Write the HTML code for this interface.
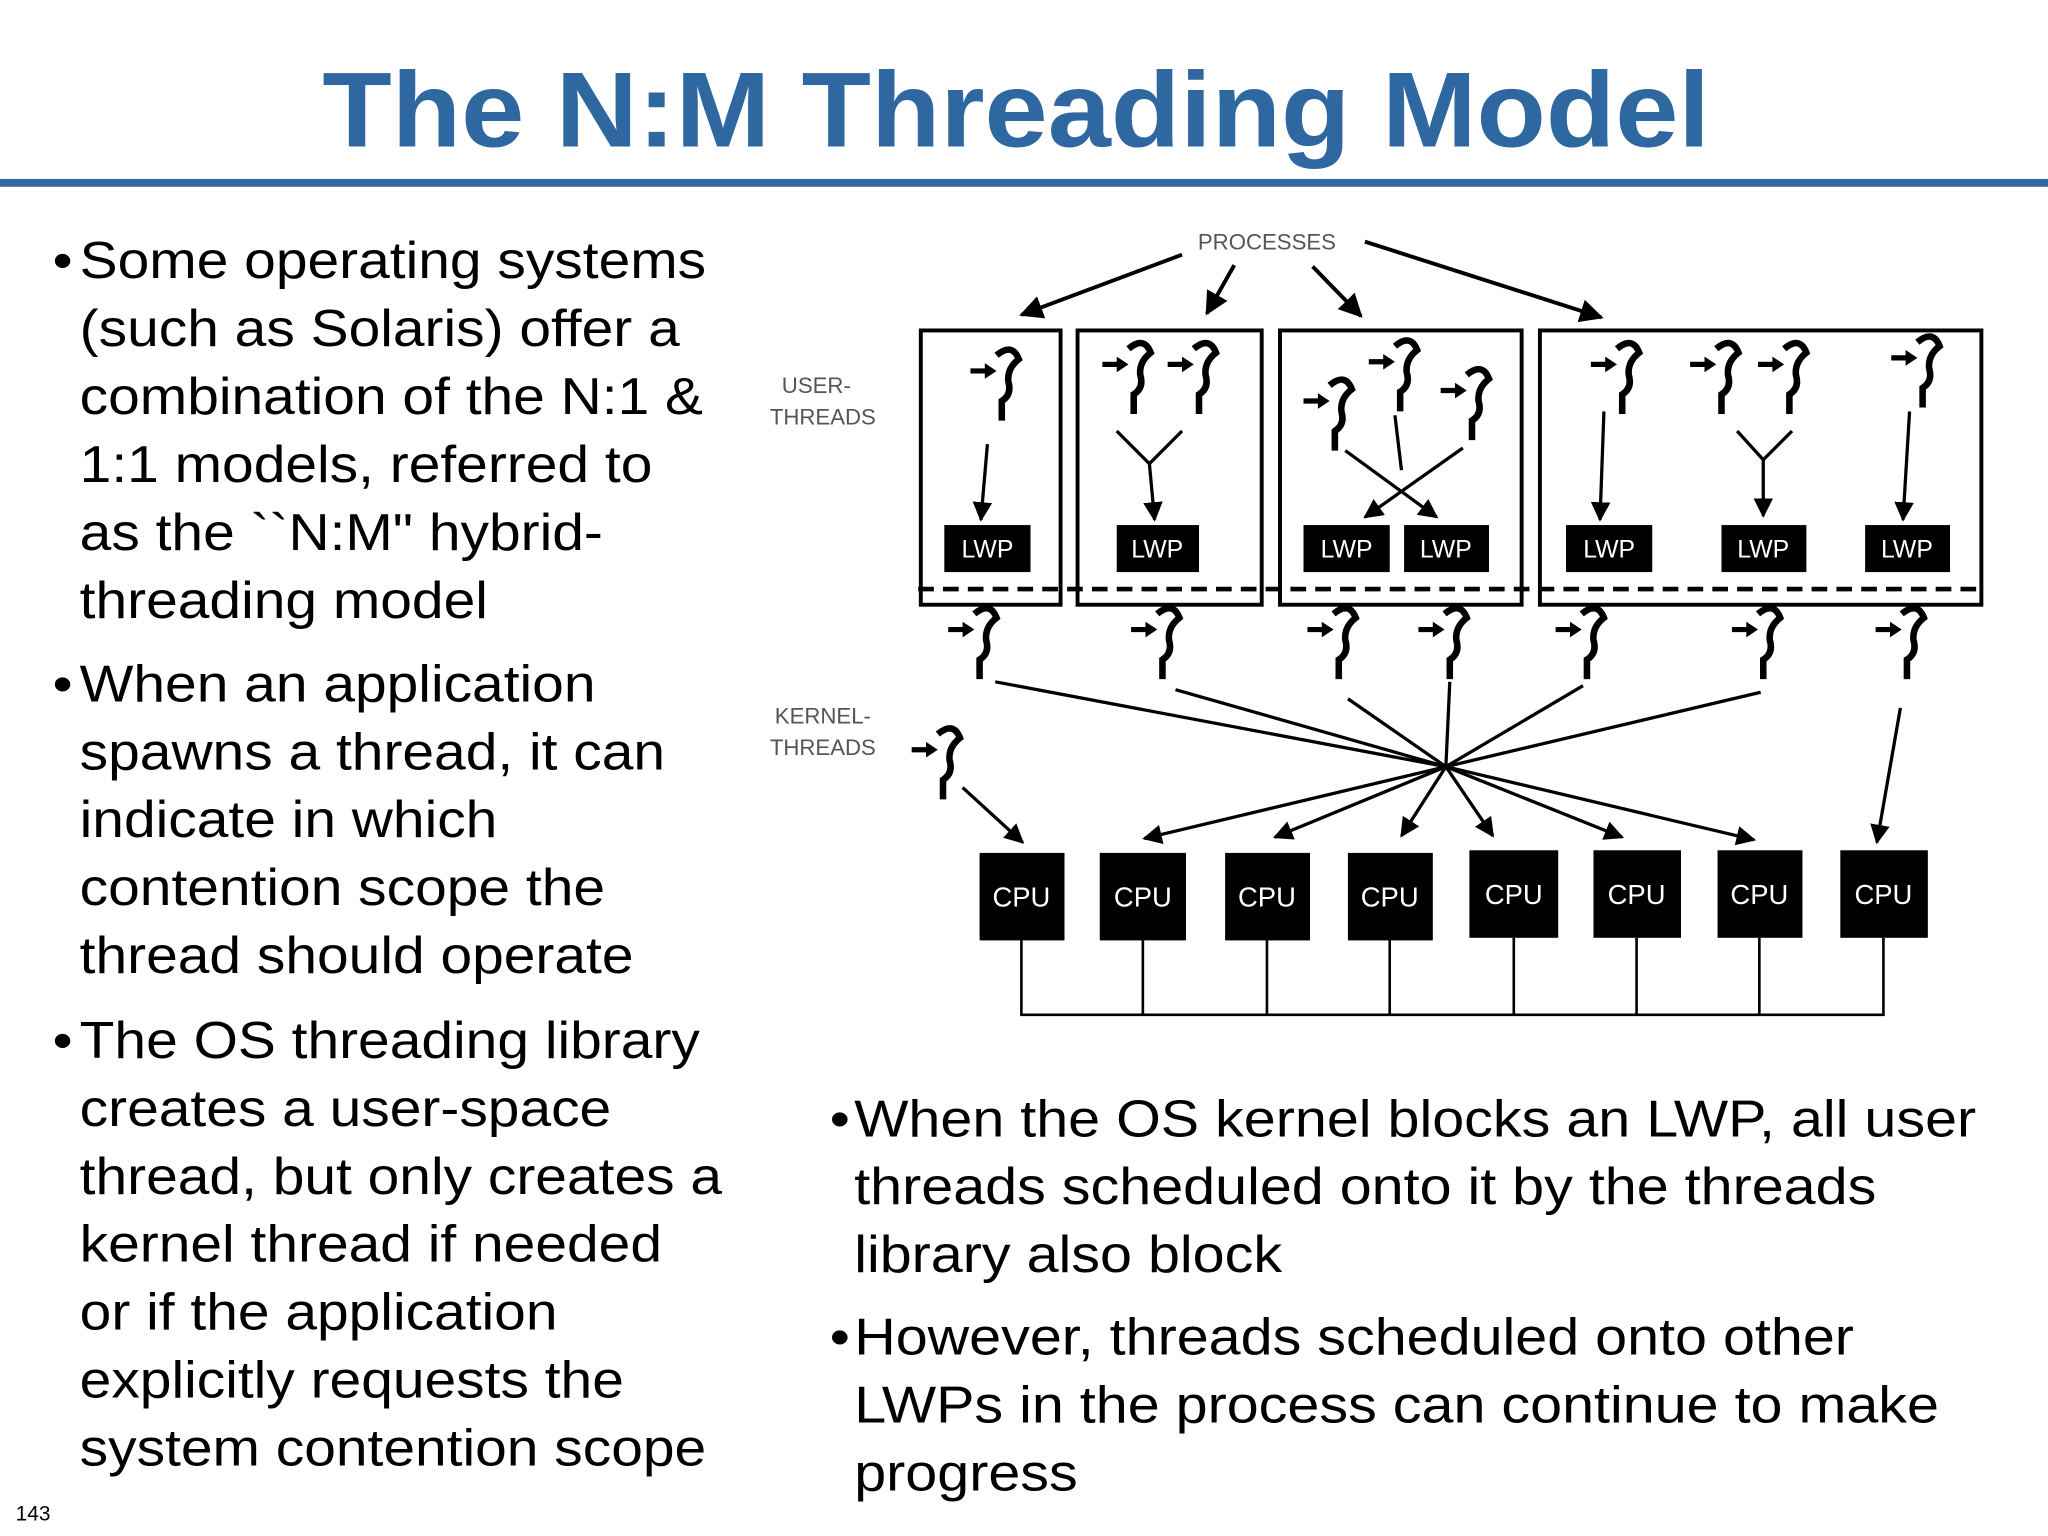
<!DOCTYPE html>
<html><head><meta charset="utf-8"><style>
html,body{margin:0;padding:0;background:#fff;}
svg{display:block;}
</style></head><body>
<svg width="2048" height="1536" viewBox="0 0 1568 1176" xmlns="http://www.w3.org/2000/svg">
<defs>
<marker id="ah" viewBox="0 0 10 10" refX="9" refY="5" markerWidth="6" markerHeight="6" orient="auto-start-reverse"><path d="M0,0 L10,5 L0,10 z" fill="#000"/></marker>
<g id="th">
<path d="M-24,-8 L-11,-8" stroke="#000" stroke-width="4"/>
<path d="M-13,-14 L-4,-8 L-13,-2 z" fill="#000"/>
<path d="M-4,-20 Q8,-30 13,-17 Q4,-10 5,0 Q8,10 0,15 L0,30" stroke="#000" stroke-width="5" fill="none"/>
</g>
</defs>
<rect width="1568" height="1176" fill="#fff"/>
<g transform="translate(778 0) scale(1.06 1) translate(-778 0)">
<text x="778" y="112" text-anchor="middle" font-family="Liberation Sans, sans-serif" font-weight="bold" font-size="82" fill="#2f67a0">The N:M Threading Model</text>
</g>
<rect x="0" y="137" width="1568" height="6" fill="#2f67a0"/>

<g font-family="Liberation Sans, sans-serif" font-size="40" fill="#000" transform="translate(61 0) scale(1.09 1) translate(-61 0)">
<text x="42" y="213">•</text>
<text x="61" y="213">Some operating systems</text>
<text x="61" y="265">(such as Solaris) offer a</text>
<text x="61" y="317">combination of the N:1 &amp;</text>
<text x="61" y="369">1:1 models, referred to</text>
<text x="61" y="421">as the ``N:M" hybrid-</text>
<text x="61" y="473">threading model</text>
<text x="42" y="537">•</text>
<text x="61" y="537">When an application</text>
<text x="61" y="589">spawns a thread, it can</text>
<text x="61" y="641">indicate in which</text>
<text x="61" y="693">contention scope the</text>
<text x="61" y="745">thread should operate</text>
<text x="42" y="810">•</text>
<text x="61" y="810">The OS threading library</text>
<text x="61" y="862">creates a user-space</text>
<text x="61" y="914">thread, but only creates a</text>
<text x="61" y="966">kernel thread if needed</text>
<text x="61" y="1018">or if the application</text>
<text x="61" y="1070">explicitly requests the</text>
<text x="61" y="1122">system contention scope</text>
</g>
<g font-family="Liberation Sans, sans-serif" font-size="40" fill="#000" transform="translate(654 0) scale(1.10 1) translate(-654 0)">
<text x="637" y="870">•</text>
<text x="654" y="870">When the OS kernel blocks an LWP, all user</text>
<text x="654" y="922">threads scheduled onto it by the threads</text>
<text x="654" y="974">library also block</text>
<text x="637" y="1037">•</text>
<text x="654" y="1037">However, threads scheduled onto other</text>
<text x="654" y="1089">LWPs in the process can continue to make</text>
<text x="654" y="1141">progress</text>
</g>
<text x="12" y="1164" font-family="Liberation Sans, sans-serif" font-size="16">143</text>

<g font-family="Liberation Sans, sans-serif" font-size="17" fill="#555">
<text x="970" y="191" text-anchor="middle">PROCESSES</text>
<text x="625" y="301" text-anchor="middle">USER-</text>
<text x="630" y="325" text-anchor="middle">THREADS</text>
<text x="630" y="554" text-anchor="middle">KERNEL-</text>
<text x="630" y="578" text-anchor="middle">THREADS</text>
</g>

<g stroke="#000" stroke-width="3" fill="none" marker-end="url(#ah)">
<line x1="905" y1="195" x2="782" y2="241"/>
<line x1="945" y1="203" x2="924" y2="240"/>
<line x1="1005" y1="204" x2="1042" y2="242"/>
<line x1="1045" y1="185" x2="1226" y2="243"/>
</g>

<g stroke="#000" stroke-width="3" fill="none">
<rect x="705" y="253" width="107" height="210"/>
<rect x="825" y="253" width="141" height="210"/>
<rect x="980" y="253" width="185" height="210"/>
<rect x="1179" y="253" width="338" height="210"/>
<line x1="703" y1="451" x2="1519" y2="451" stroke-dasharray="12,7" stroke-width="3.5"/>
</g>

<g fill="#000">
<rect x="723" y="402" width="66" height="36"/>
<rect x="855" y="402" width="63" height="36"/>
<rect x="998" y="402" width="66" height="36"/>
<rect x="1075" y="402" width="65" height="36"/>
<rect x="1199" y="402" width="66" height="36"/>
<rect x="1318" y="402" width="65" height="36"/>
<rect x="1428" y="402" width="65" height="36"/>
</g>
<g font-family="Liberation Sans, sans-serif" font-size="19" fill="#fff" text-anchor="middle">
<text x="756" y="427">LWP</text><text x="886" y="427">LWP</text><text x="1031" y="427">LWP</text><text x="1107" y="427">LWP</text><text x="1232" y="427">LWP</text><text x="1350" y="427">LWP</text><text x="1460" y="427">LWP</text>
</g>

<use href="#th" x="767" y="292"/>
<use href="#th" x="868" y="287"/><use href="#th" x="918" y="287"/>
<use href="#th" x="1022" y="315"/><use href="#th" x="1072" y="285"/><use href="#th" x="1127" y="307"/>
<use href="#th" x="1242" y="287"/><use href="#th" x="1318" y="287"/><use href="#th" x="1370" y="287"/><use href="#th" x="1472" y="282"/>

<g stroke="#000" stroke-width="2.5" fill="none">
<line x1="855" y1="330" x2="880" y2="355"/><line x1="905" y1="330" x2="880" y2="355"/>
<line x1="1330" y1="330" x2="1350" y2="352"/><line x1="1372" y1="330" x2="1350" y2="352"/>
<line x1="1068" y1="318" x2="1073" y2="360"/>
</g>
<g stroke="#000" stroke-width="2.5" fill="none" marker-end="url(#ah)">
<line x1="756" y1="340" x2="751" y2="398"/>
<line x1="880" y1="355" x2="884" y2="398"/>
<line x1="1030" y1="345" x2="1100" y2="396"/>
<line x1="1120" y1="343" x2="1045" y2="396"/>
<line x1="1228" y1="315" x2="1225" y2="398"/>
<line x1="1350" y1="352" x2="1350" y2="395"/>
<line x1="1462" y1="315" x2="1457" y2="398"/>
</g>

<use href="#th" x="750" y="490"/><use href="#th" x="890" y="490"/><use href="#th" x="1025" y="490"/><use href="#th" x="1110" y="490"/><use href="#th" x="1215" y="490"/><use href="#th" x="1350" y="490"/><use href="#th" x="1460" y="490"/>
<use href="#th" x="722" y="582"/>

<g stroke="#000" stroke-width="2.5" fill="none">
<line x1="762" y1="522" x2="1107" y2="587"/>
<line x1="900" y1="528" x2="1107" y2="587"/>
<line x1="1032" y1="535" x2="1107" y2="587"/>
<line x1="1110" y1="522" x2="1107" y2="587"/>
<line x1="1212" y1="525" x2="1107" y2="587"/>
<line x1="1348" y1="530" x2="1107" y2="587"/>
</g>
<g stroke="#000" stroke-width="2.5" fill="none" marker-end="url(#ah)">
<line x1="1107" y1="587" x2="876" y2="642"/>
<line x1="1107" y1="587" x2="976" y2="641"/>
<line x1="1107" y1="587" x2="1073" y2="640"/>
<line x1="1107" y1="587" x2="1143" y2="640"/>
<line x1="1107" y1="587" x2="1242" y2="641"/>
<line x1="1107" y1="587" x2="1343" y2="643"/>
<line x1="737" y1="603" x2="783" y2="645"/>
<line x1="1455" y1="542" x2="1437" y2="645"/>
</g>

<g fill="#000">
<rect x="750" y="653" width="65" height="67"/>
<rect x="842" y="653" width="66" height="67"/>
<rect x="938" y="653" width="65" height="67"/>
<rect x="1032" y="653" width="65" height="67"/>
<rect x="1125" y="651" width="68" height="67"/>
<rect x="1220" y="651" width="67" height="67"/>
<rect x="1315" y="651" width="65" height="67"/>
<rect x="1409" y="651" width="67" height="67"/>
</g>
<g font-family="Liberation Sans, sans-serif" font-size="21" fill="#fff" text-anchor="middle">
<text x="782" y="694">CPU</text><text x="875" y="694">CPU</text><text x="970" y="694">CPU</text><text x="1064" y="694">CPU</text><text x="1159" y="692">CPU</text><text x="1253" y="692">CPU</text><text x="1347" y="692">CPU</text><text x="1442" y="692">CPU</text>
</g>
<g stroke="#000" stroke-width="2" fill="none">
<path d="M782,720 V777 H1442 V718"/>
<line x1="875" y1="720" x2="875" y2="777"/>
<line x1="970" y1="720" x2="970" y2="777"/>
<line x1="1064" y1="720" x2="1064" y2="777"/>
<line x1="1159" y1="718" x2="1159" y2="777"/>
<line x1="1253" y1="718" x2="1253" y2="777"/>
<line x1="1347" y1="718" x2="1347" y2="777"/>
</g>
</svg>
</body></html>
